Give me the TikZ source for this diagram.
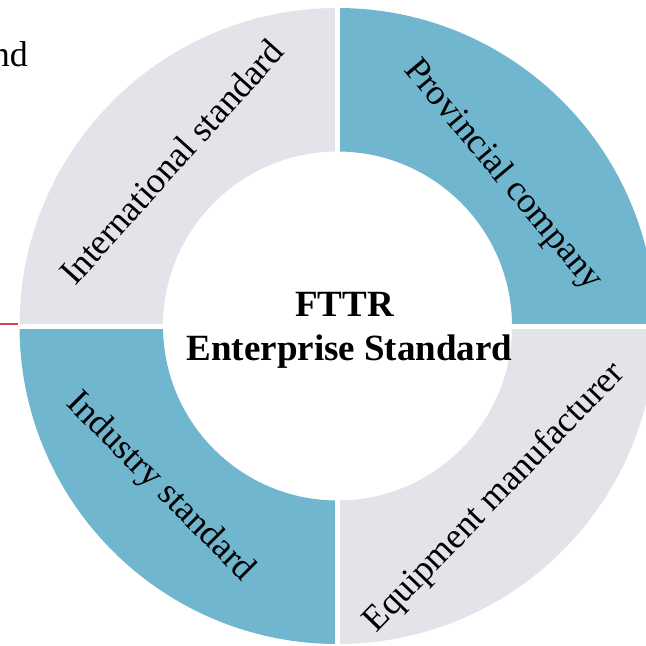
\documentclass[tikz,border=0pt]{standalone}
\usepackage{fontspec}
\setmainfont{Liberation Serif}
\definecolor{ringblue}{HTML}{70B6CE}
\definecolor{ringgray}{HTML}{E3E4E9}
\definecolor{cutred}{HTML}{D0425A}
\begin{document}
\begin{tikzpicture}[x=1pt,y=1pt,every node/.style={inner sep=0pt,font=\fontsize{36}{40}\selectfont},
 mid/.style={anchor=base,font=\bfseries\fontsize{37}{44}\selectfont}]
 \useasboundingbox (-337.5,-320) rectangle (308.5,326);
 % ring quadrants
 \foreach \a/\b/\c in {0/90/ringblue,90/180/ringgray,180/270/ringblue,270/360/ringgray}
 \fill [\c] (\a:174.5) -- (\a:318) arc[start angle=\a,end angle=\b,radius=318] -- (\b:174.5) arc[start angle=\b,end angle=\a,radius=174.5] -- cycle;
 \draw [white,line width=5pt] (-319,-0.5) -- (319,-0.5) (0,-319) -- (0,319);
 \draw [cutred,line width=2pt] (-340,2.3) -- (-319.5,2.3);
 \node [anchor=base east] (n0) at (-309.5,259) {nd};
 \node [mid] (c1) at (7,10) {FTTR};
 \node [mid] (c2) at (12,-34) {Enterprise Standard};
 \node [anchor=base,rotate=48] (t1) at (-157,156) {International standard};
 \node [anchor=base,rotate=-50] (t2) at (158.5,145) {Provincial company};
 \node [anchor=base,rotate=-45] (t3) at (-183.5,-167.5) {Industry standard};
 \node [anchor=base,rotate=46] (t4) at (164,-178) {Equipment manufacturer};
\end{tikzpicture}
\end{document}
